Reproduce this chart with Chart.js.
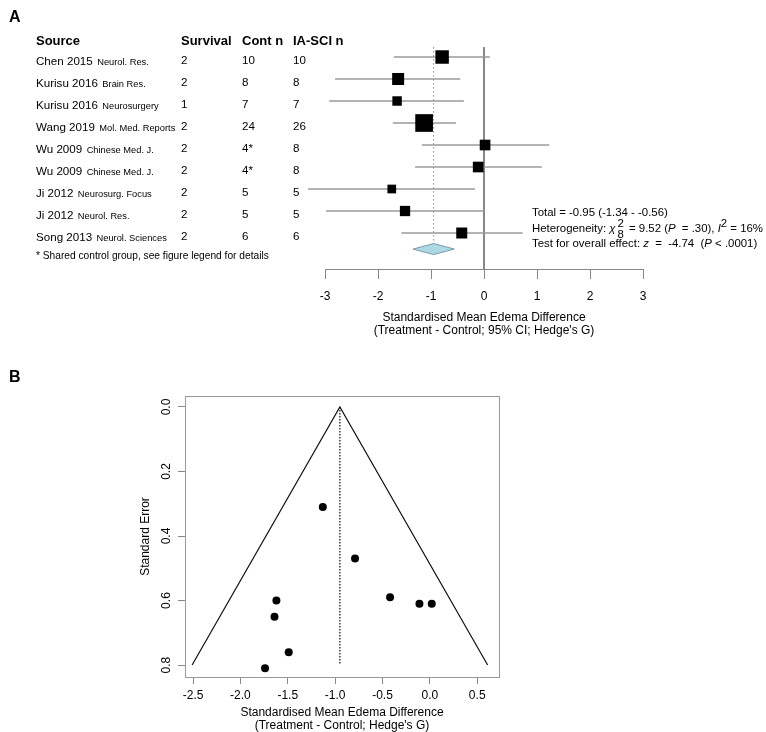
<!DOCTYPE html>
<html>
<head>
<meta charset="utf-8">
<script src="https://cdn.jsdelivr.net/npm/chart.js@4.4.1/dist/chart.umd.min.js"></script>
<style>
  body { margin: 0; background: #fff; }
  #wrap { position: relative; width: 766px; height: 732px; font-family: "Liberation Sans", Arial, sans-serif; color: #000; overflow: hidden; }
  canvas { position: absolute; left: 0; }
  .t { position: absolute; white-space: nowrap; transform: translateY(-50%); line-height: 1; z-index: 2; }
  .hd { font-weight: bold; font-size: 13px; }
  .nm { font-size: 11.6px; }
  .jr { font-size: 9.3px; }
  .fn { font-size: 10.2px; }
  .panel { font-weight: bold; font-size: 16px; }
  .st { font-size: 11.4px; }
  .stack { display: inline-block; vertical-align: middle; line-height: 11px; text-align: center; margin: 0 2px; }
  .stack span { display: block; }
</style>
</head>
<body>
<div id="wrap">
  <canvas id="forest" width="766" height="345" style="top:0"></canvas>
  <canvas id="funnel" width="766" height="387" style="top:345px"></canvas>
  <div class="t panel" style="left:9px;top:17px">A</div>
  <div class="t panel" style="left:9px;top:377px">B</div>
  <div id="table"></div>
  <div class="t st" style="left:532px;top:213px">Total = -0.95 (-1.34 - -0.56)</div>
  <div class="t st" style="left:532px;top:229px">Heterogeneity: <i>&chi;</i><span class="stack"><span>2</span><span>8</span></span> = 9.52 (<i>P</i> &nbsp;= .30), <i>I</i><sup style="font-size:11.4px;vertical-align:5px">2</sup> = 16%</div>
  <div class="t st" style="left:532px;top:244px">Test for overall effect: <i>z</i> &nbsp;= &nbsp;-4.74 &nbsp;(<i>P</i> &lt; .0001)</div>
</div>
<script>
// studies (same order in both panels)
const studies = ['Chen 2015', 'Kurisu 2016', 'Kurisu 2016', 'Wang 2019', 'Wu 2009', 'Wu 2009', 'Ji 2012', 'Ji 2012', 'Song 2013'];
const journals = ['Neurol. Res.', 'Brain Res.', 'Neurosurgery', 'Mol. Med. Reports', 'Chinese Med. J.', 'Chinese Med. J.', 'Neurosurg. Focus', 'Neurol. Res.', 'Neurol. Sciences'];
const survival = ['2', '2', '1', '2', '2', '2', '2', '2', '2'];
const contN = ['10', '8', '7', '24', '4*', '4*', '5', '5', '6'];
const iaN = ['10', '8', '7', '26', '8', '8', '5', '5', '6'];

// standardised mean differences, 95% CI, weights, standard errors
const smd = [-0.79, -1.62, -1.64, -1.13, 0.02, -0.11, -1.74, -1.49, -0.42];
const ciLow = [-1.70, -2.81, -2.92, -1.72, -1.17, -1.30, -3.32, -2.98, -1.56];
const ciHigh = [0.11, -0.45, -0.38, -0.53, 1.23, 1.09, -0.17, 0.00, 0.73];
const weightPct = [14.4, 11.4, 7.1, 24.8, 9.0, 9.0, 6.0, 8.4, 9.6];
const stdErr = [0.47, 0.60, 0.65, 0.31, 0.61, 0.61, 0.81, 0.76, 0.59];

// pooled effect: estimate, lower, upper
const pooled = [-0.95, -1.34, -0.56];

// tick labels
const forestTicks = [-3, -2, -1, 0, 1, 2, 3];
const funnelXTicks = [-2.5, -2.0, -1.5, -1.0, -0.5, 0.0, 0.5];
const funnelYTicks = [0.0, 0.2, 0.4, 0.6, 0.8];

// pseudo 95% funnel edges
const funnelEdgeX = [-2.51, -0.95, 0.61];
const funnelEdgeSE = [0.8, 0, 0.8];

const FONT = '"Liberation Sans", Arial, sans-serif';
const diamondRow = 8.73;
const diamondHalf = 0.25;

// ---------- panel A: forest plot ----------
const ciSets = studies.map((s, i) => ({
    data: [{ x: ciLow[i], y: i }, { x: ciHigh[i], y: i }],
    showLine: true,
    borderColor: '#9a9a9a',
    borderWidth: 1.3,
    pointRadius: 0,
    clip: false
}));

const forest = new Chart(document.getElementById('forest'), {
    type: 'scatter',
    data: {
        datasets: [
            {
                // study squares, area proportional to weight
                data: smd.map((v, i) => ({ x: v, y: i })),
                pointStyle: 'rect',
                pointRadius: ctx => 3.55 * Math.sqrt(weightPct[ctx.dataIndex]) / Math.SQRT2,
                backgroundColor: '#000',
                borderWidth: 0,
                clip: false
            },
            {
                // pooled diamond
                data: [
                    { x: pooled[1], y: diamondRow },
                    { x: pooled[0], y: diamondRow - diamondHalf },
                    { x: pooled[2], y: diamondRow },
                    { x: pooled[0], y: diamondRow + diamondHalf },
                    { x: pooled[1], y: diamondRow }
                ],
                showLine: true,
                fill: 'shape',
                backgroundColor: '#add8e6',
                borderColor: '#7d9aa8',
                borderWidth: 1,
                pointRadius: 0,
                clip: false
            },
            ...ciSets,
            {
                // pooled estimate, dotted
                data: [{ x: pooled[0], y: -0.45 }, { x: pooled[0], y: 8.5 }],
                showLine: true,
                borderColor: '#8a8a8a',
                borderWidth: 1,
                borderDash: [1.5, 2.5],
                pointRadius: 0
            },
            {
                // line of no effect
                data: [{ x: 0, y: -0.45 }, { x: 0, y: 9.64 }],
                showLine: true,
                borderColor: '#777',
                borderWidth: 1,
                pointRadius: 0
            }
        ]
    },
    options: {
        responsive: false,
        animation: false,
        layout: { padding: { left: 325, right: 123, top: 36, bottom: 0 } },
        plugins: { legend: { display: false }, tooltip: { enabled: false } },
        scales: {
            x: {
                type: 'linear',
                min: -3,
                max: 3,
                afterBuildTicks: s => { s.ticks = forestTicks.map(v => ({ value: v })); },
                afterFit: s => { s.height = 76; },
                grid: { drawOnChartArea: false, color: '#888', tickLength: 10 },
                border: { color: '#888' },
                ticks: { color: '#000', padding: 10, font: { family: FONT, size: 12 } },
                title: {
                    display: true,
                    text: ['Standardised Mean Edema Difference', '(Treatment - Control; 95% CI; Hedge\'s G)'],
                    color: '#000',
                    font: { family: FONT, size: 12, lineHeight: 1.15 },
                    padding: { top: 0, bottom: 7 }
                }
            },
            y: { type: 'linear', reverse: true, min: -0.955, max: 9.636, display: false }
        }
    }
});

// table text on the left, aligned to the forest rows
const yScale = forest.scales.y;
const table = document.getElementById('table');
function addText(cls, x, y, html) {
    const d = document.createElement('div');
    d.className = 't ' + cls;
    d.style.left = x + 'px';
    d.style.top = y + 'px';
    d.innerHTML = html;
    table.appendChild(d);
}
const headY = 40;
addText('hd', 36, headY, 'Source');
addText('hd', 181, headY, 'Survival');
addText('hd', 242, headY, 'Cont n');
addText('hd', 293, headY, 'IA-SCI n');
studies.forEach((s, i) => {
    const y = yScale.getPixelForValue(i) + 2.5;
    addText('', 36, y, '<span class="nm">' + s + '</span> <span class="jr">' + journals[i] + '</span>');
    addText('nm', 181, y, survival[i]);
    addText('nm', 242, y, contN[i]);
    addText('nm', 293, y, iaN[i]);
});
addText('fn', 36, 256, '* Shared control group, see figure legend for details');

// ---------- panel B: funnel plot ----------
const boxPlugin = {
    id: 'plotBox',
    afterDatasetsDraw(chart) {
        const { ctx, chartArea: a } = chart;
        ctx.save();
        ctx.strokeStyle = '#999';
        ctx.lineWidth = 1;
        ctx.strokeRect(a.left + 0.5, a.top + 0.5, a.right - a.left, a.bottom - a.top);
        ctx.restore();
    }
};

new Chart(document.getElementById('funnel'), {
    type: 'scatter',
    data: {
        datasets: [
            {
                data: smd.map((v, i) => ({ x: v, y: stdErr[i] })),
                pointRadius: 4,
                backgroundColor: '#000',
                borderWidth: 0
            },
            {
                data: funnelEdgeX.map((v, i) => ({ x: v, y: funnelEdgeSE[i] })),
                showLine: true,
                borderColor: '#111',
                borderWidth: 1.2,
                pointRadius: 0
            },
            {
                data: [{ x: pooled[0], y: 0 }, { x: pooled[0], y: 0.8 }],
                showLine: true,
                borderColor: '#111',
                borderWidth: 1.2,
                borderDash: [1.5, 1.5],
                pointRadius: 0
            }
        ]
    },
    options: {
        responsive: false,
        animation: false,
        layout: { padding: { left: 135, right: 267, top: 51, bottom: 0 } },
        plugins: { legend: { display: false }, tooltip: { enabled: false } },
        scales: {
            x: {
                type: 'linear',
                min: -2.585,
                max: 0.73,
                afterBuildTicks: s => { s.ticks = funnelXTicks.map(v => ({ value: v })); },
                afterFit: s => { s.height = 55; },
                grid: { drawOnChartArea: false, color: '#888', tickLength: 7 },
                border: { color: '#999' },
                ticks: { color: '#000', padding: 4, font: { family: FONT, size: 12 }, callback: v => v.toFixed(1) },
                title: {
                    display: true,
                    text: ['Standardised Mean Edema Difference', '(Treatment - Control; Hedge\'s G)'],
                    color: '#000',
                    font: { family: FONT, size: 12, lineHeight: 1.1 },
                    padding: { top: 0, bottom: 0 }
                }
            },
            y: {
                type: 'linear',
                reverse: true,
                min: -0.034,
                max: 0.837,
                afterBuildTicks: s => { s.ticks = funnelYTicks.map(v => ({ value: v })); },
                afterFit: s => { s.width = 50; },
                grid: { drawOnChartArea: false, color: '#888', tickLength: 7 },
                border: { color: '#999' },
                ticks: {
                    color: '#000', padding: 3, minRotation: 90, maxRotation: 90, crossAlign: 'center',
                    font: { family: FONT, size: 12 }, callback: v => v.toFixed(1)
                },
                title: {
                    display: true,
                    text: 'Standard Error',
                    color: '#000',
                    font: { family: FONT, size: 12 },
                    padding: { top: 3, bottom: 0 }
                }
            }
        }
    },
    plugins: [boxPlugin]
});
</script>
</body>
</html>
